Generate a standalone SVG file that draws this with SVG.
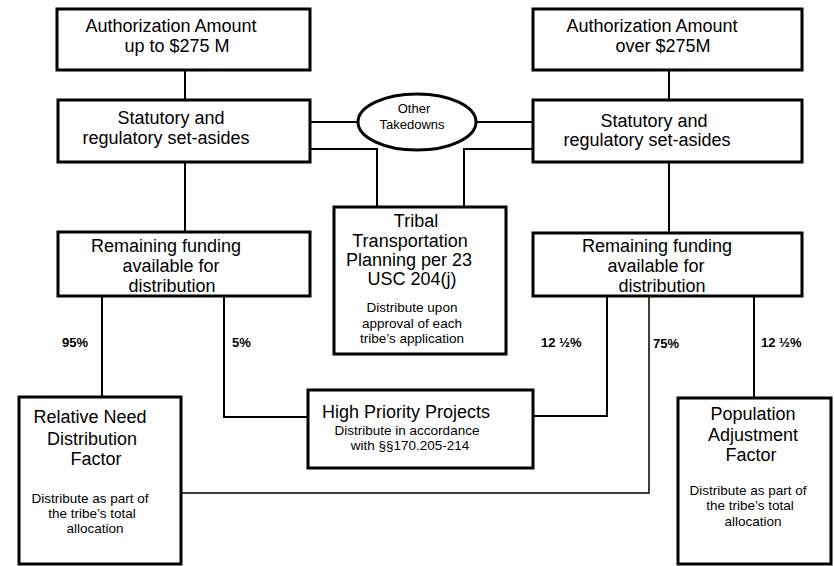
<svg xmlns="http://www.w3.org/2000/svg" width="834" height="566" viewBox="0 0 834 566">
<style>
  .box { fill: #fff; stroke: #000; stroke-width: 3; }
  .ell { fill: #fff; stroke: #000; stroke-width: 3; }
  .ln { fill: none; stroke: #000; stroke-width: 2; }
  .thin { fill: none; stroke: #000; stroke-width: 1.5; }
  text { font-family: "Liberation Sans", Arial, sans-serif; fill: #000; text-anchor: middle; }
  .big { font-size: 18px; }
  .sm { font-size: 13.5px; }
  .el { font-size: 13px; }
  .pct { font-size: 13px; font-weight: bold; text-anchor: start; }
</style>
<rect width="834" height="566" fill="#fff"/>
<g id="connectors">
  <path class="ln" d="M185,71 V100"/>
  <path class="ln" d="M185,162 V232"/>
  <path class="ln" d="M669,70 V100"/>
  <path class="ln" d="M669,162 V233"/>
  <path class="ln" d="M310,122 H358"/>
  <path class="ln" d="M476,122 H533"/>
  <path class="ln" d="M310,149 H377 V207"/>
  <path class="ln" d="M533,149 H464 V207"/>
  <path class="ln" d="M102,296 V397"/>
  <path class="ln" d="M224,296 V417 H308"/>
  <path class="ln" d="M607,296 V416 H533"/>
  <path class="ln" d="M754,296 V398"/>
  <path class="thin" d="M649,296 V493 H181"/>
  <text class="pct" x="62" y="347">95%</text>
  <text class="pct" x="232" y="347">5%</text>
  <text class="pct" x="541" y="347">12 ½%</text>
  <text class="pct" x="653" y="348">75%</text>
  <text class="pct" x="761" y="347">12 ½%</text>
</g>
<g id="auth-low">
  <rect class="box" x="57" y="9" width="253" height="61"/>
  <text class="big" x="171" y="32">Authorization Amount</text>
  <text class="big" x="177" y="52">up to $275 M</text>
</g>
<g id="auth-high">
  <rect class="box" x="533" y="9" width="269" height="61"/>
  <text class="big" x="652" y="32">Authorization Amount</text>
  <text class="big" x="663" y="52">over $275M</text>
</g>
<g id="setaside-low">
  <rect class="box" x="58" y="100" width="252" height="62"/>
  <text class="big" x="171" y="124">Statutory and</text>
  <text class="big" x="166" y="144">regulatory set-asides</text>
</g>
<g id="setaside-high">
  <rect class="box" x="533" y="100" width="269" height="62"/>
  <text class="big" x="654" y="127">Statutory and</text>
  <text class="big" x="647" y="146">regulatory set-asides</text>
</g>
<g id="other-takedowns">
  <ellipse class="ell" cx="417" cy="122" rx="59" ry="28"/>
  <text class="el" x="414" y="113">Other</text>
  <text class="el" x="412" y="129">Takedowns</text>
</g>
<g id="remaining-low">
  <rect class="box" x="58" y="232" width="252" height="64"/>
  <text class="big" x="166" y="252">Remaining funding</text>
  <text class="big" x="171" y="272">available for</text>
  <text class="big" x="172" y="292">distribution</text>
</g>
<g id="remaining-high">
  <rect class="box" x="533" y="233" width="269" height="63"/>
  <text class="big" x="657" y="252">Remaining funding</text>
  <text class="big" x="656" y="272">available for</text>
  <text class="big" x="662" y="292">distribution</text>
</g>
<g id="tribal-planning">
  <rect class="box" x="334" y="207" width="172" height="147"/>
  <text class="big" x="416" y="227">Tribal</text>
  <text class="big" x="410" y="247">Transportation</text>
  <text class="big" x="409" y="266">Planning per 23</text>
  <text class="big" x="412" y="285">USC 204(j)</text>
  <text class="sm" x="412" y="312">Distribute upon</text>
  <text class="sm" x="412" y="328">approval of each</text>
  <text class="sm" x="412" y="343">tribe’s application</text>
</g>
<g id="high-priority">
  <rect class="box" x="308" y="390" width="225" height="78"/>
  <text class="big" x="406" y="418">High Priority Projects</text>
  <text class="sm" x="407" y="435">Distribute in accordance</text>
  <text class="sm" x="410" y="450">with §§170.205-214</text>
</g>
<g id="relative-need">
  <rect class="box" x="19" y="397" width="162" height="167"/>
  <text class="big" x="90" y="423">Relative Need</text>
  <text class="big" x="92" y="445">Distribution</text>
  <text class="big" x="96" y="465">Factor</text>
  <text class="sm" x="90" y="503">Distribute as part of</text>
  <text class="sm" x="92" y="518">the tribe’s total</text>
  <text class="sm" x="95" y="533">allocation</text>
</g>
<g id="population-adjustment">
  <rect class="box" x="678" y="398" width="153" height="166"/>
  <text class="big" x="753" y="420">Population</text>
  <text class="big" x="753" y="441">Adjustment</text>
  <text class="big" x="751" y="461">Factor</text>
  <text class="sm" x="748" y="495">Distribute as part of</text>
  <text class="sm" x="750" y="510">the tribe’s total</text>
  <text class="sm" x="753" y="526">allocation</text>
</g>
</svg>
